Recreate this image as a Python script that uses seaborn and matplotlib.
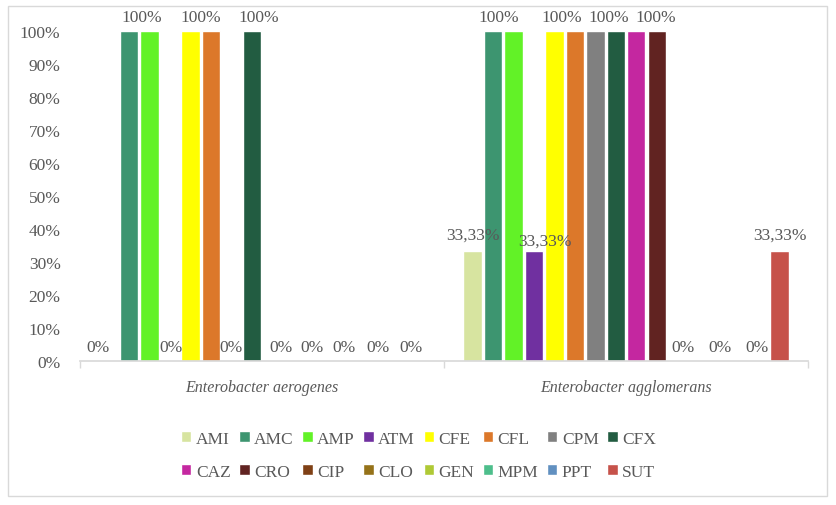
import numpy as np
import pandas as pd
import seaborn as sns
import matplotlib.pyplot as plt
from matplotlib.patches import Rectangle
from matplotlib.ticker import FuncFormatter, FixedLocator

species = ["Enterobacter aerogenes", "Enterobacter agglomerans"]
antibiotics = ["AMI", "AMC", "AMP", "ATM", "CFE", "CFL", "CPM", "CFX",
               "CAZ", "CRO", "CIP", "CLO", "GEN", "MPM", "PPT", "SUT"]
aerogenes = [0, 100, 100, 0, 100, 100, 0, 100, 0, 0, 0, 0, 0, 0, 0, 0]
agglomerans = [33.33, 100, 100, 33.33, 100, 100, 100, 100, 100, 100, 0, 0, 0, 0, 0, 33.33]
# data labels visible in the original chart (the others are hidden)
aerogenes_labels = ["0%", "", "100%", "0%", "100%", "", "0%", "100%",
                    "0%", "", "0%", "", "0%", "0%", "", "0%"]
agglomerans_labels = ["33,33%", "100%", "", "33,33%", "100%", "", "", "100%",
                      "", "100%", "0%", "", "0%", "", "0%", "33,33%"]
colors = ["#D7E4A0", "#3D9570", "#62F227", "#7030A0", "#FFFF00", "#DC782A",
          "#808080", "#225C41", "#C427A0", "#612321", "#7F4015", "#957219",
          "#AFC935", "#4DBE8B", "#6190C0", "#C6524A"]
# label nudges (pixels, x / y) as the labels were dragged in the original
nudge_aero = [(-10, 0), (0, 0), (-8, 0), (1, 0), (10, 0), (0, 0), (0, 0), (7, 0),
              (9, 0), (0, 0), (-1, 0), (0, 0), (-10, 0), (3, 0), (0, 0), (-5, 0)]
nudge_aggl = [(0, 3), (6, 0), (0, 0), (11, -3), (7, 0), (0, 0), (0, 0), (-7, 0),
              (0, 0), (-1, 0), (6, 0), (0, 0), (2, 0), (0, 0), (-2, 0), (0, 3)]

df = pd.DataFrame({
    "species": np.repeat(species, len(antibiotics)),
    "antibiotic": antibiotics * 2,
    "value": aerogenes + agglomerans,
})

sns.set_theme(style="white")
plt.rcParams['font.family'] = ['Liberation Serif', 'DejaVu Serif']
txt = "#595959"
fs = 12.5

fig = plt.figure(figsize=(8.37, 5.06), dpi=100)
ax = fig.add_axes([0.0956, 0.2846, 0.8698, 0.6522])
sns.barplot(data=df, x="species", y="value", hue="antibiotic", hue_order=antibiotics,
            palette=colors, saturation=1, width=0.9, gap=0.1, ax=ax, errorbar=None)

px = 0.72  # points per pixel at 100 dpi
pad = 4
for i, cont in enumerate(ax.containers):
    anns = ax.bar_label(cont, labels=[aerogenes_labels[i], agglomerans_labels[i]],
                        padding=pad, color=txt, fontsize=fs, clip_on=False)
    for ann, (dx, dy) in zip(anns, [nudge_aero[i], nudge_aggl[i]]):
        ann.xyann = (dx * px, pad + dy * px)

ax.set_ylim(0, 100)
ax.set_yticks(range(0, 101, 10))
ax.yaxis.set_major_formatter(FuncFormatter(lambda v, p: f"{v:.0f}%"))
ax.set_xlim(-0.5, 1.5)
ax.xaxis.set_minor_locator(FixedLocator([-0.5, 0.5, 1.5]))
ax.tick_params(axis="y", length=0, labelsize=fs, labelcolor=txt, pad=14)
ax.tick_params(axis="x", which="major", length=0, labelsize=11.5, labelcolor=txt, pad=13)
ax.tick_params(axis="x", which="minor", length=5, color="#D9D9D9", bottom=True)
for lab in ax.get_xticklabels():
    lab.set_fontstyle("italic")
ax.set_xlabel("")
ax.set_ylabel("")
for s in ["left", "top", "right"]:
    ax.spines[s].set_visible(False)
ax.spines["bottom"].set_color("#D9D9D9")

# legend filled row by row (matplotlib fills columns first)
handles, labels = ax.get_legend_handles_labels()
ax.get_legend().remove()
order = [r * 8 + c for c in range(8) for r in range(2)]
fig.legend([handles[k] for k in order], [labels[k] for k in order],
           loc="center", bbox_to_anchor=(0.5, 0.098), ncol=8,
           frameon=False, handlelength=0.6, handleheight=0.6, handletextpad=0.25,
           columnspacing=0.5, labelspacing=1.0, fontsize=fs, labelcolor=txt)

fig.patches.append(Rectangle((0.01, 0.018), 0.978, 0.968, transform=fig.transFigure,
                             fill=False, edgecolor="#D9D9D9", linewidth=1))

fig.savefig("out.png", dpi=100)
